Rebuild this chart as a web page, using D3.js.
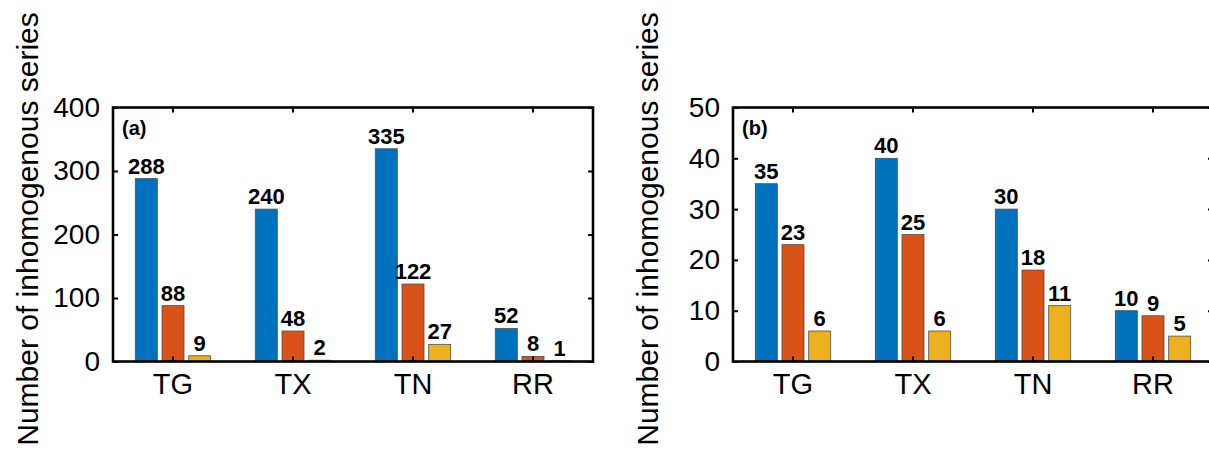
<!DOCTYPE html>
<html>
<head>
<meta charset="utf-8">
<script src="https://cdn.jsdelivr.net/npm/d3@7"></script>
<style>
html,body{margin:0;padding:0;background:#fff;}
svg{display:block;font-family:"Liberation Sans",Arial,Helvetica,sans-serif;}
</style>
</head>
<body>
<svg id="chart" width="1209" height="451"></svg>
<script>
// ---- data ----
const categories = ["TG", "TX", "TN", "RR"];
const seriesNames = ["s1", "s2", "s3"];
const valuesA = [
  [288, 88, 9],
  [240, 48, 2],
  [335, 122, 27],
  [52, 8, 1]
];
const valuesB = [
  [35, 23, 6],
  [40, 25, 6],
  [30, 18, 11],
  [10, 9, 5]
];
const ticksA = [0, 100, 200, 300, 400];
const ticksB = [0, 10, 20, 30, 40, 50];
const panelLabels = ["(a)", "(b)"];
const yTitle = "Number of inhomogenous series";
const colors = ["#0072BD", "#D95319", "#EDB120"];

const svg = d3.select("#chart");

function panel(opts) {
  const {left, right, top, bottom, yMax, ticks, values, label, titleX} = opts;
  const g = svg.append("g");
  const x = d3.scaleBand().domain(categories).range([left, right]).padding(0);
  const y = d3.scaleLinear().domain([0, yMax]).range([bottom, top]);
  const x1 = d3.scaleBand().domain(seriesNames).range([-37.7, 37.7]).paddingInner(0.176).paddingOuter(0);

  // bars
  const groups = g.selectAll("g.grp").data(values).join("g")
    .attr("class", "grp")
    .attr("transform", (d, i) => `translate(${x(categories[i]) + x.bandwidth() / 2},0)`);
  groups.selectAll("rect").data(d => d.map((v, j) => ({v, s: seriesNames[j], j}))).join("rect")
    .attr("x", d => x1(d.s))
    .attr("width", x1.bandwidth())
    .attr("y", d => y(d.v))
    .attr("height", d => bottom - y(d.v))
    .attr("fill", d => colors[d.j])
    .attr("stroke", "#4d4d4d")
    .attr("stroke-width", 0.8);
  groups.selectAll("text").data(d => d.map((v, j) => ({v, s: seriesNames[j]}))).join("text")
    .attr("x", d => x1(d.s) + x1.bandwidth() / 2)
    .attr("y", d => y(d.v) - 5)
    .attr("text-anchor", "middle")
    .attr("font-weight", "bold")
    .attr("font-size", 22)
    .attr("fill", "#000")
    .text(d => d.v);

  // axes
  const tickStyle = size => sel => {
    sel.select(".domain").remove();
    sel.selectAll(".tick line").attr("stroke", "#000").attr("stroke-width", 2);
    sel.selectAll("text").attr("font-size", size).attr("fill", "#000")
      .attr("font-family", "'Liberation Sans', Arial, sans-serif");
  };
  g.append("g").attr("transform", `translate(${left},0)`)
    .call(d3.axisLeft(y).tickValues(ticks).tickSize(-5).tickPadding(13).tickFormat(d3.format("d")))
    .call(tickStyle(28));
  g.append("g").attr("transform", `translate(${left + 4 * x.bandwidth()},0)`)
    .call(d3.axisRight(y).tickValues(ticks).tickSize(-5).tickFormat(""))
    .call(tickStyle(28));
  g.append("g").attr("transform", `translate(0,${bottom})`)
    .call(d3.axisBottom(x).tickSize(-5).tickPadding(12))
    .call(tickStyle(29));
  g.append("g").attr("transform", `translate(0,${top})`)
    .call(d3.axisTop(x).tickSize(-5).tickFormat(""))
    .call(tickStyle(28));

  // frame
  g.append("rect")
    .attr("x", left).attr("y", top)
    .attr("width", right - left).attr("height", bottom - top)
    .attr("fill", "none").attr("stroke", "#000").attr("stroke-width", 2.6);

  // panel label
  g.append("text")
    .attr("x", left + 9).attr("y", top + 27)
    .attr("font-weight", "bold").attr("font-size", 20).attr("fill", "#000")
    .text(label);

  // y title
  g.append("text")
    .attr("transform", `translate(${titleX},229) rotate(-90)`)
    .attr("text-anchor", "middle")
    .attr("font-size", 30).attr("fill", "#000")
    .text(yTitle);
}

panel({left: 113, right: 593, top: 107.5, bottom: 361.5, yMax: 400, ticks: ticksA, values: valuesA, label: panelLabels[0], titleX: 38});
panel({left: 733, right: 1213, top: 107.5, bottom: 361.5, yMax: 50, ticks: ticksB, values: valuesB, label: panelLabels[1], titleX: 658});
</script>
</body>
</html>
